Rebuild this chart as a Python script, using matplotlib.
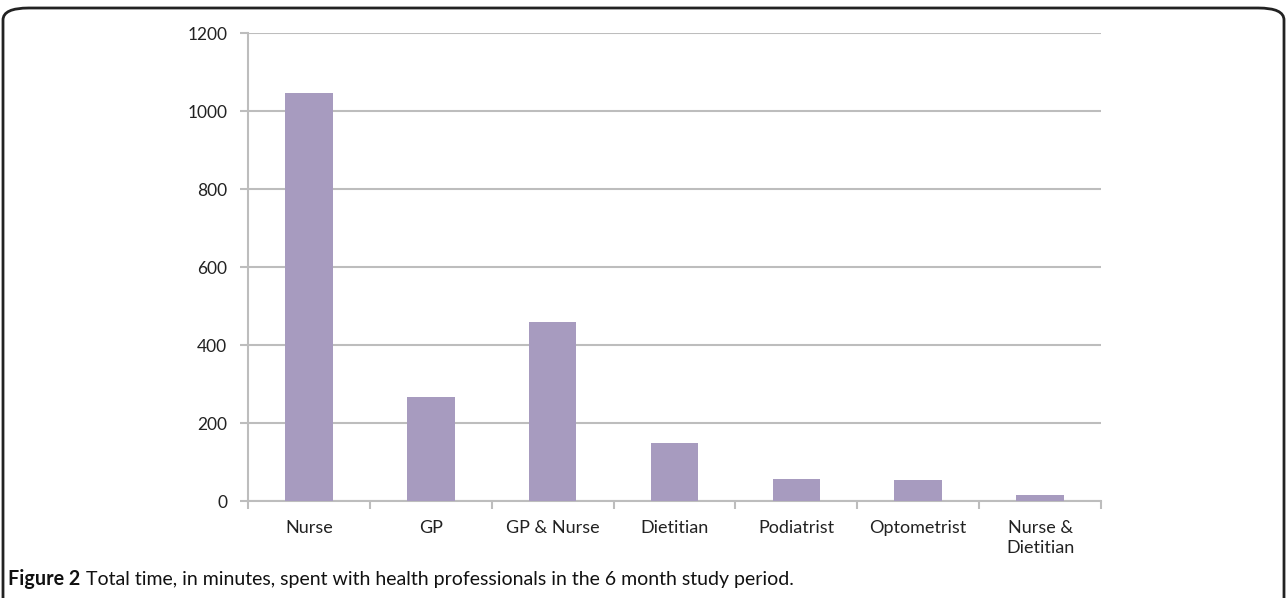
import matplotlib
matplotlib.use("Agg")
import matplotlib.pyplot as plt
from matplotlib.patches import FancyBboxPatch

categories = ["Nurse", "GP", "GP & Nurse", "Dietitian", "Podiatrist", "Optometrist", "Nurse &\nDietitian"]
minutes = [1045, 266, 459, 148, 57, 54, 15]
yticks = [0, 200, 400, 600, 800, 1000, 1200]

W, H = 1287, 598
fig = plt.figure(figsize=(W / 100, H / 100), dpi=100)
plt.rcParams['font.family'] = ['Lato', 'DejaVu Sans']

ax = fig.add_axes([248 / W, 1 - 501 / H, (1101 - 248) / W, (501 - 33) / H])
x = list(range(len(categories)))
ax.bar(x, minutes, width=0.39, color="#a79bbf", zorder=3)
ax.set_xlim(-0.5, len(categories) - 0.5)
ax.set_ylim(0, 1200)
ax.set_yticks(yticks)
ax.set_yticklabels([str(v) for v in yticks], fontsize=12.5, color="#222222")
ax.grid(axis="y", color="#bdbdbd", linewidth=1.5, zorder=0)
ax.set_xticks(x)
ax.set_xticklabels(categories, fontsize=13, color="#222222", linespacing=1.3)
ax.set_xticks([i - 0.5 for i in range(len(categories) + 1)], minor=True)
ax.tick_params(axis="x", which="major", length=0, pad=14)
ax.tick_params(axis="x", which="minor", length=6, width=1.5, color="#bdbdbd")
ax.tick_params(axis="y", length=6, width=1.5, color="#bdbdbd", pad=9)
for s in ["top", "right"]:
    ax.spines[s].set_visible(False)
for s in ["left", "bottom"]:
    ax.spines[s].set_color("#bdbdbd")
    ax.spines[s].set_linewidth(1.5)

# Figure frame with rounded top corners
frame = FancyBboxPatch((3 / W, -0.2), (W - 6) / W, 1.2 - 8 / H,
                       boxstyle="round,pad=0,rounding_size=0.02",
                       transform=fig.transFigure, fill=False,
                       edgecolor="#222222", linewidth=2, clip_on=False)
fig.patches.append(frame)

cap_y = 1 - 579 / H
t1 = fig.text(8 / W, cap_y, "Figure 2", fontsize=14.2, fontweight="bold",
              va="center", ha="left", color="#111111")
fig.canvas.draw()
bb = t1.get_window_extent()
fig.text((bb.x1 + 6) / W, cap_y,
         "Total time, in minutes, spent with health professionals in the 6 month study period.",
         fontsize=14.0, va="center", ha="left", color="#111111")

fig.savefig("out.png", dpi=100)
